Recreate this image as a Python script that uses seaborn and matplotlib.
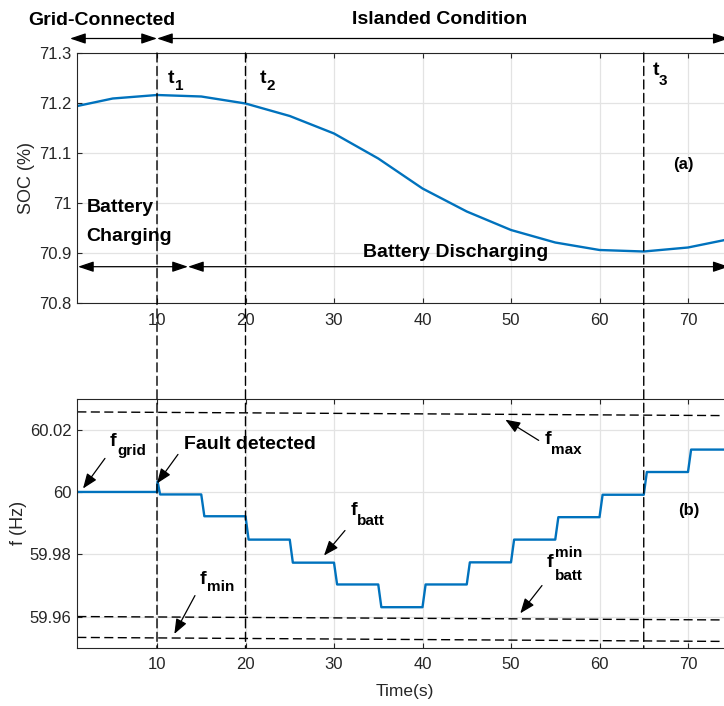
import matplotlib
matplotlib.use("Agg")
import numpy as np
import pandas as pd
import seaborn as sns
import matplotlib.pyplot as plt
import matplotlib.transforms as mtransforms
from matplotlib.patches import ConnectionPatch

# ---------------- data ----------------
soc_time = [1, 5, 10, 15, 20, 25, 30, 35, 40, 45, 50, 55, 60, 65, 70, 75]
soc_value = [71.194, 71.209, 71.216, 71.213, 71.199, 71.174, 71.139, 71.089,
             71.029, 70.983, 70.946, 70.921, 70.906, 70.903, 70.911, 70.929]

f_step_time = [10, 15, 20, 25, 30, 35, 40, 45, 50, 55, 60, 65, 70]
f_levels = [60.0, 59.9992, 59.9922, 59.9847, 59.9773, 59.9703, 59.9630,
            59.9703, 59.9774, 59.9847, 59.9919, 59.9991, 60.0064, 60.0136]
f_spike_peak = 60.0034

limit_x = [1, 75]
fmax_line = [60.0257, 60.0245]
fmin_line = [59.9600, 59.9589]
fbattmin_line = [59.9533, 59.9520]

event_times = [10, 20, 65]
event_names = ["1", "2", "3"]

x_ticks = [10, 20, 30, 40, 50, 60, 70]
soc_yticks = [70.8, 70.9, 71.0, 71.1, 71.2, 71.3]
f_yticks = [59.96, 59.98, 60.0, 60.02]

# build step curve for frequency
ramp = 0.35
fx, fy = [limit_x[0]], [f_levels[0]]
for i, t in enumerate(f_step_time):
    if i == 0:
        fx += [t, t + 0.06, t + ramp]
        fy += [f_levels[0], f_spike_peak, f_levels[1]]
    else:
        fx += [t, t + ramp]
        fy += [f_levels[i], f_levels[i + 1]]
fx.append(limit_x[1]); fy.append(f_levels[-1])
soc_df = pd.DataFrame({"t": soc_time, "soc": soc_value})
f_df = pd.DataFrame({"t": fx, "f": fy})

# ---------------- style ----------------
sns.set_style("ticks")
plt.rcParams["font.family"] = ["Liberation Sans", "DejaVu Sans"]
AX_COL = "#262626"
BLUE = "#0072BD"
GRID = "#e3e3e3"

W, H = 724, 706
fig = plt.figure(figsize=(W / 100, H / 100), dpi=100)

def px_axes(left, top, right, bottom):
    return fig.add_axes([left / W, 1 - bottom / H, (right - left) / W, (bottom - top) / H])

ax1 = px_axes(77.35, 53, 732.25, 303)
ax2 = px_axes(77.35, 398.5, 732.25, 647.7)

sns.lineplot(data=soc_df, x="t", y="soc", ax=ax1, color=BLUE, lw=1.7,
             estimator=None, sort=False)
sns.lineplot(data=f_df, x="t", y="f", ax=ax2, color=BLUE, lw=1.7,
             estimator=None, sort=False)

dash = (0, (6.5, 3.2))
for yy in (fmax_line, fmin_line, fbattmin_line):
    ax2.plot(limit_x, yy, color="black", lw=1.0, ls=dash)

for ax, yt, ylim in ((ax1, soc_yticks, (70.8, 71.3)), (ax2, f_yticks, (59.95, 60.03))):
    ax.set_xlim(1, 75)
    ax.set_ylim(*ylim)
    ax.set_xticks(x_ticks)
    ax.set_yticks(yt)
    ax.set_yticklabels([f"{v:g}" for v in yt])
    ax.set_xticklabels([str(v) for v in x_ticks])
    ax.grid(True, color=GRID, lw=0.9)
    ax.set_axisbelow(True)
    for s in ax.spines.values():
        s.set_color(AX_COL)
        s.set_linewidth(0.8)
        s.set_visible(True)
    ax.tick_params(direction="in", top=True, right=True, length=3.6, width=0.8,
                   colors=AX_COL, labelsize=12)
    ax.tick_params(axis="x", pad=7.0)
    ax.tick_params(axis="y", pad=4.3)
    ax.set_xlabel("")

ax1.set_ylabel("SOC (%)", fontsize=13, color=AX_COL)
ax1.yaxis.set_label_coords((35 - 77.35) / 654.9, 0.5)
ax2.set_ylabel("f (Hz)", fontsize=13, color=AX_COL)
ax2.yaxis.set_label_coords((27 - 77.35) / 654.9, 0.5)
ax2.set_xlabel("Time(s)", fontsize=12.5, color=AX_COL)
ax2.xaxis.set_label_coords(0.5, -(683.7 - 647.7) / 249.2)

# vertical event lines spanning both panels
for t in event_times:
    con = ConnectionPatch(xyA=(t, 71.3), coordsA=ax1.transData,
                          xyB=(t, 59.95), coordsB=ax2.transData,
                          color="black", lw=1.0, ls=dash, zorder=5)
    fig.add_artist(con)

BOLD = dict(fontweight="bold", color="black")

def sub_text(ax, x, y, main, sub=None, sub_off=(0, 0), sup=None, sup_off=(0, 0),
             size=14, subsize=11):
    ax.annotate(main, (x, y), xycoords="data", ha="left", va="baseline",
                fontsize=size, annotation_clip=False, **BOLD)
    if sub:
        ax.annotate(sub, (x, y), xycoords="data", xytext=(sub_off[0] * 0.72, -sub_off[1] * 0.72),
                    textcoords="offset points", ha="left", va="baseline",
                    fontsize=subsize, annotation_clip=False, **BOLD)
    if sup:
        ax.annotate(sup, (x, y), xycoords="data", xytext=(sup_off[0] * 0.72, -sup_off[1] * 0.72),
                    textcoords="offset points", ha="left", va="baseline",
                    fontsize=subsize, annotation_clip=False, **BOLD)

def arrow(ax, start, end, style="-|>,head_length=0.9,head_width=0.35", trans=None, lw=0.9):
    ax.annotate("", xy=end, xytext=start,
                xycoords=trans if trans is not None else "data",
                arrowprops=dict(arrowstyle=style, color="black", lw=lw,
                                shrinkA=0, shrinkB=0, mutation_scale=10),
                annotation_clip=False)

# ---- top panel annotations ----
sub_text(ax1, 11.24, 71.2406, "t", event_names[0], (7, 7.3))
sub_text(ax1, 21.64, 71.2406, "t", event_names[1], (6.7, 7.3))
sub_text(ax1, 65.97, 71.256, "t", event_names[2], (6.7, 10))
ax1.text(69.44, 71.078, "(a)", ha="center", va="center", fontsize=12, **BOLD)
ax1.text(2.06, 70.9826, "Battery", ha="left", va="baseline", fontsize=14, **BOLD)
ax1.text(2.06, 70.9246, "Charging", ha="left", va="baseline", fontsize=14, **BOLD)
ax1.text(33.28, 70.8914, "Battery Discharging", ha="left", va="baseline", fontsize=14, **BOLD)

dbl = "<|-|>,head_length=0.95,head_width=0.32"
arrow(ax1, (1.07, 70.8726), (13.5, 70.8726), style=dbl)
arrow(ax1, (13.5, 70.8726), (74.6, 70.8726), style=dbl)

blend = mtransforms.blended_transform_factory(ax1.transData, ax1.transAxes)
ytop = 1 + (53 - 38.5) / 250
arrow(ax1, (0.17, ytop), (10, ytop), style=dbl, trans=blend)
arrow(ax1, (10, ytop), (74.6, ytop), style=dbl, trans=blend)
fig.text(28.3 / W, 1 - 25 / H, "Grid-Connected", ha="left", va="baseline", fontsize=14, **BOLD)
fig.text(351.7 / W, 1 - 24 / H, "Islanded Condition", ha="left", va="baseline", fontsize=14, **BOLD)

# ---- bottom panel annotations ----
sub_text(ax2, 4.69, 60.01463, "f", "grid", (7, 8.7))
ax2.text(13.05, 60.01366, "Fault detected", ha="left", va="baseline", fontsize=14, **BOLD)
sub_text(ax2, 31.92, 59.99245, "f", "batt", (6.3, 9.3))
sub_text(ax2, 14.86, 59.97059, "f", "min", (7, 7.7))
sub_text(ax2, 53.84, 60.01527, "f", "max", (6.3, 10))
sub_text(ax2, 54.07, 59.97605, "f", "batt", (7.7, 13.3), sup="min", sup_off=(8, -9.3))
ax2.text(70.06, 59.99405, "(b)", ha="center", va="center", fontsize=12, **BOLD)

arrow(ax2, (4.12, 60.01077), (1.64, 60.0011))
arrow(ax2, (12.37, 60.01205), (10.0, 60.00273))
arrow(ax2, (31.24, 59.98762), (28.87, 59.97959))
arrow(ax2, (14.29, 59.96673), (11.96, 59.95442))
arrow(ax2, (53.13, 60.01655), (49.36, 60.02321))
arrow(ax2, (53.5, 59.96995), (51.05, 59.96104))

fig.savefig("out.png", dpi=100)
